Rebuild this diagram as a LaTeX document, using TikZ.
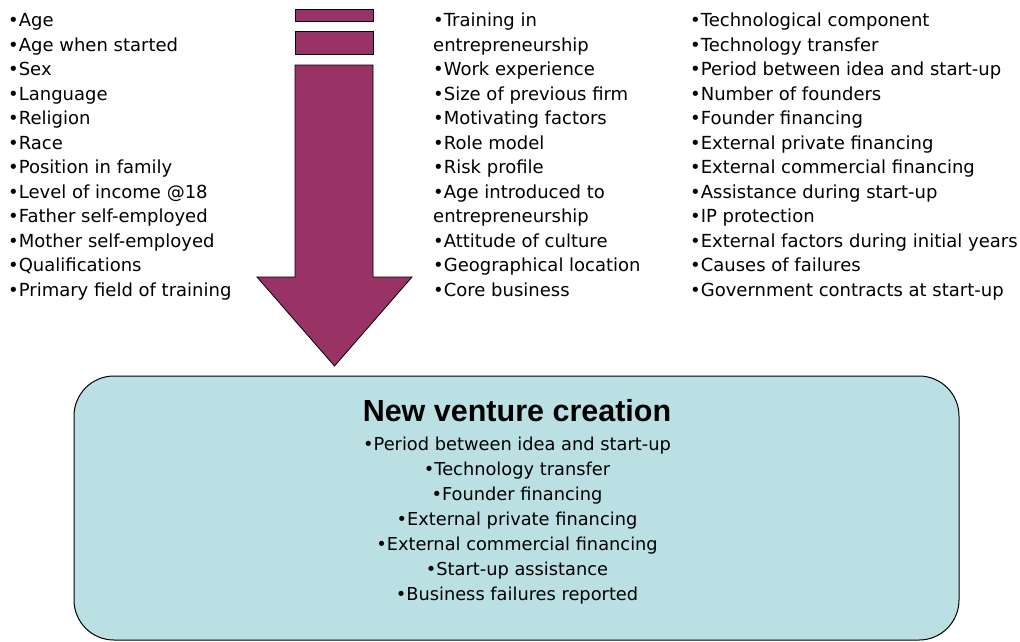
\documentclass[tikz,border=0pt]{standalone}
\usepackage{fontspec}
\setmainfont{DejaVu Sans}
\newfontfamily\headfont{Liberation Sans}
\usetikzlibrary{positioning}
\definecolor{plum}{HTML}{993366}
\definecolor{paleteal}{HTML}{BBE0E3}
\tikzset{%
  factors/.style = {anchor=base west, align=left, inner sep=0pt,%
                    font=\fontsize{18}{24.5}\selectfont},%
  outcomes/.style = {anchor=base, align=center, inner sep=0pt,%
                    font=\fontsize{17.8}{25}\selectfont},%
  heading/.style  = {anchor=base, inner sep=0pt,%
                    font=\headfont\bfseries\fontsize{30.5}{32}\selectfont},%
  block/.style    = {draw, line width=0.8pt, fill=plum},%
  venture/.style  = {draw, line width=1pt, fill=paleteal, rounded corners=40pt}%
}
\begin{document}
\begin{tikzpicture}[x=1pt,y=-1pt]
	\useasboundingbox (0,0) rectangle (1020,641);
	% arrow from the factors into the outcome
	\draw [block] (295,9) rectangle (373,21);
	\draw [block] (295,31) rectangle (373,54);
	\draw [block] (295,65) -- (373,65) -- (373,277) -- (412,277)
		-- (334.5,366) -- (257,277) -- (295,277) -- cycle;
	\draw [venture] (74,376) rectangle (959,640);
	% base anchor sits on the last line
	\node [factors] (personal) at (8,296.2) {%
		•Age\\•Age when started\\•Sex\\•Language\\•Religion\\•Race\\%
		•Position in family\\•Level of income @18\\•Father self-employed\\%
		•Mother self-employed\\•Qualifications\\•Primary field of training};
	\node [factors] (background) at (433,296.2) {%
		•Training in\\entrepreneurship\\•Work experience\\•Size of previous firm\\%
		•Motivating factors\\•Role model\\•Risk profile\\•Age introduced to\\%
		entrepreneurship\\•Attitude of culture\\•Geographical location\\%
		•Core business};
	\node [factors] (firm) at (690,296.2) {%
		•Technological component\\•Technology transfer\\%
		•Period between idea and start-up\\•Number of founders\\%
		•Founder financing\\•External private financing\\%
		•External commercial financing\\•Assistance during start-up\\%
		•IP protection\\•External factors during initial years\\%
		•Causes of failures\\•Government contracts at start-up};
	\node [heading] (title) at (517,421.7) {New venture creation};
	\node [outcomes] (creation) at (517,600) {%
		•Period between idea and start-up\\•Technology transfer\\%
		•Founder financing\\•External private financing\\%
		•External commercial financing\\•Start-up assistance\\%
		•Business failures reported};
\end{tikzpicture}
\end{document}
